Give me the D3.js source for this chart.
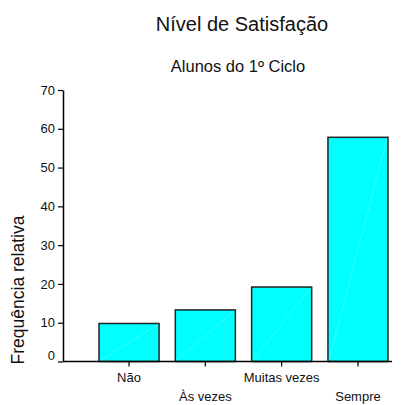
<!DOCTYPE html>
<html>
<head>
<meta charset="utf-8">
<script src="https://cdn.jsdelivr.net/npm/d3@7"></script>
<style>
  html, body { margin: 0; padding: 0; background: #fff; }
  svg { display: block; font-family: "Liberation Sans", Arial, Helvetica, sans-serif; }
</style>
</head>
<body>
<svg id="chart" width="414" height="405"></svg>
<script>
const categories = ["Não", "Às vezes", "Muitas vezes", "Sempre"];
const values = [9.8, 13.3, 19.2, 57.8];
const yTicks = [0, 10, 20, 30, 40, 50, 60, 70];
const title = "Nível de Satisfação";
const subtitle = "Alunos do 1º Ciclo";
const yLabel = "Frequência relativa";

const svg = d3.select("#chart");
const plot = { left: 63, right: 392, top: 90, bottom: 361.5 };

const y = d3.scaleLinear().domain([0, 70]).range([plot.bottom, plot.top]);
const x = d3.scaleBand().domain(categories).range([99, 388]).paddingInner(0.213).paddingOuter(0);

// Titles
svg.append("text").attr("x", 242).attr("y", 31).attr("text-anchor", "middle")
  .attr("font-size", 20).attr("fill", "#111").text(title);
svg.append("text").attr("x", 238).attr("y", 71.5).attr("text-anchor", "middle")
  .attr("font-size", 16.5).attr("fill", "#111").text(subtitle);
svg.append("text").attr("transform", "translate(24,290) rotate(-90)").attr("text-anchor", "middle")
  .attr("font-size", 17.5).attr("fill", "#111").text(yLabel);

// Bars
const bars = svg.append("g");
bars.selectAll("rect").data(values).enter().append("rect")
  .attr("x", (d, i) => x(categories[i]))
  .attr("y", d => y(d))
  .attr("width", x.bandwidth())
  .attr("height", d => y(0) - y(d))
  .attr("fill", "#00ffff")
  .attr("stroke", "#222")
  .attr("stroke-width", 1.5);
bars.selectAll("line").data(values).enter().append("line")
  .attr("x1", (d, i) => x(categories[i]) + 1)
  .attr("y1", y(0) - 1)
  .attr("x2", (d, i) => x(categories[i]) + x.bandwidth() - 1)
  .attr("y2", d => y(d) + 1)
  .attr("stroke", "rgba(255,255,255,0.35)")
  .attr("stroke-width", 0.6);

// Y axis
const yAxis = svg.append("g").attr("transform", `translate(${plot.left},0)`)
  .call(d3.axisLeft(y).tickValues(yTicks).tickSize(5).tickSizeOuter(0).tickPadding(3));
yAxis.select(".domain").attr("stroke", "#000").attr("stroke-width", 1.5);
yAxis.selectAll(".tick line").attr("stroke", "#000").attr("stroke-width", 1.2);
yAxis.selectAll(".tick text").attr("font-size", 13).attr("fill", "#111")
  .attr("font-family", "Liberation Sans, Arial, sans-serif")
  .attr("dy", d => d === 0 ? "-0.15em" : "0.32em");

// X axis
const xAxis = svg.append("g").attr("transform", `translate(0,${plot.bottom})`)
  .call(d3.axisBottom(x).tickSize(5).tickSizeOuter(0));
xAxis.select(".domain").remove();
xAxis.selectAll(".tick line").attr("stroke", "#000").attr("stroke-width", 1.2);
xAxis.selectAll(".tick text").attr("font-size", 13).attr("fill", "#111")
  .attr("font-family", "Liberation Sans, Arial, sans-serif")
  .attr("dy", null)
  .attr("y", (d, i) => i % 2 === 0 ? 20.5 : 39.5);
svg.append("line").attr("x1", plot.left).attr("x2", plot.right)
  .attr("y1", plot.bottom).attr("y2", plot.bottom)
  .attr("stroke", "#000").attr("stroke-width", 1.5);
</script>
</body>
</html>
